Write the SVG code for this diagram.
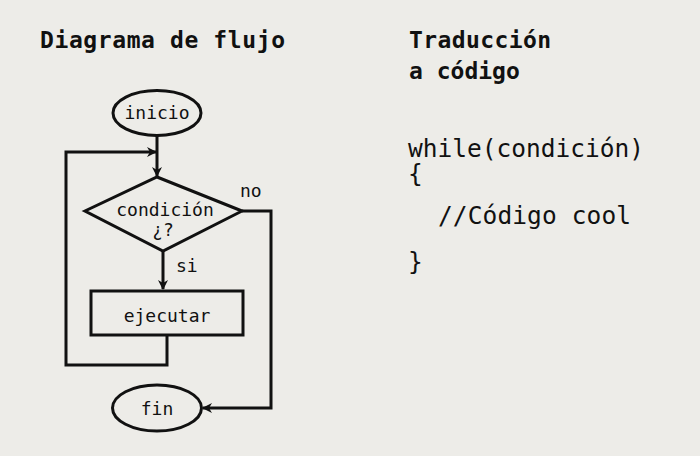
<svg xmlns="http://www.w3.org/2000/svg" width="700" height="456" viewBox="0 0 700 456">
<defs>
<style>
.t{font-family:"DejaVu Sans Mono","Liberation Mono",monospace;fill:#111}
.h{font-size:23px;font-weight:bold}
.c{font-size:24.5px}
.l{font-size:18px}
.s{fill:none;stroke:#111;stroke-width:3}
.e{fill:none;stroke:#111;stroke-width:3}
</style>
<marker id="a" markerWidth="12" markerHeight="12" refX="10" refY="6" orient="auto" markerUnits="userSpaceOnUse">
<path d="M1,1 L11,6 L1,11 L4,6 Z" fill="#111"/>
</marker>
</defs>
<rect width="700" height="456" fill="#EDECE8"/>
<g id="titles">
<text class="t h" x="40" y="48" textLength="245">Diagrama de flujo</text>
<text class="t h" x="409" y="48" textLength="142">Traducción</text>
<text class="t h" x="409" y="79">a código</text>
</g>
<g id="code">
<text class="t c" x="408" y="157" textLength="236">while(condición)</text>
<text class="t c" x="408" y="182">{</text>
<text class="t c" x="438" y="224" textLength="193">//Código cool</text>
<text class="t c" x="408" y="270">}</text>
</g>
<g id="connectors">
<path class="s" d="M157,136 V176" marker-end="url(#a)"/>
<path class="s" d="M167,335 V365 H66 V152 H156" marker-end="url(#a)"/>
<path class="s" d="M163,251 V289" marker-end="url(#a)"/>
<path class="s" d="M242,211 H271 V408 H203" marker-end="url(#a)"/>
<text class="t l" x="240" y="197">no</text>
<text class="t l" x="176" y="272">si</text>
</g>
<g id="inicio">
<ellipse class="e" cx="157" cy="113" rx="44" ry="22.5"/>
<text class="t l" x="157" y="119" text-anchor="middle">inicio</text>
</g>
<g id="condicion">
<path class="e" d="M157,177 L242,211 L163,251 L85,211 Z" stroke-linejoin="miter"/>
<text class="t l" x="165" y="216" text-anchor="middle">condición</text>
<text class="t l" x="163" y="236" text-anchor="middle">¿?</text>
</g>
<g id="ejecutar">
<rect class="e" x="91" y="291" width="152" height="44"/>
<text class="t l" x="167" y="322" text-anchor="middle">ejecutar</text>
</g>
<g id="fin">
<ellipse class="e" cx="157" cy="408" rx="44.5" ry="23"/>
<text class="t l" x="157" y="415" text-anchor="middle">fin</text>
</g>
</svg>
